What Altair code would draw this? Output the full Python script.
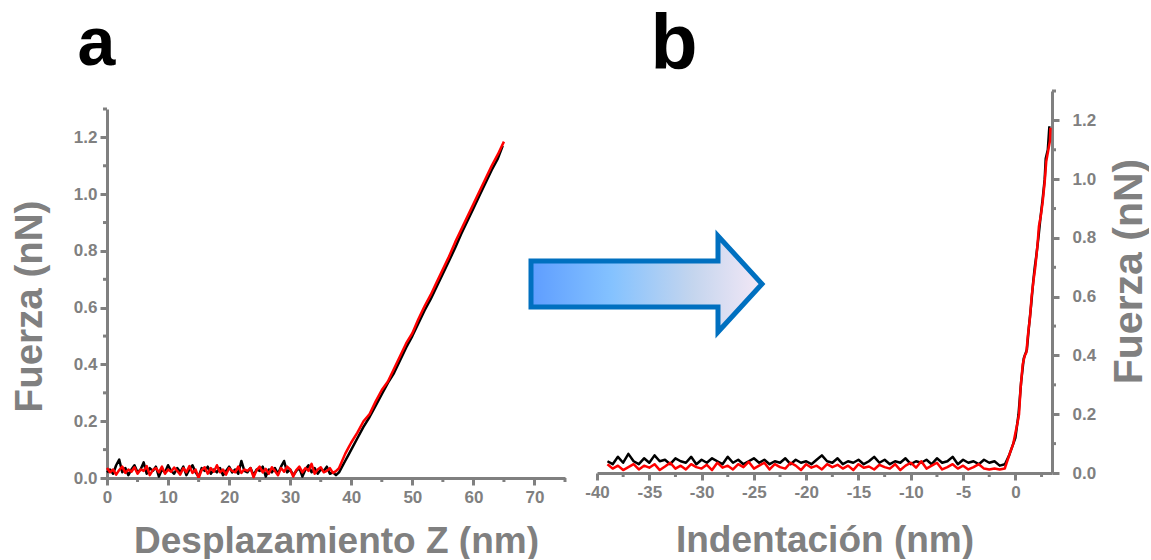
import altair as alt
import pandas as pd

# ---------------- data ----------------
# panel a: flat approach part, sampled every 0.5 nm starting at 0 nm
a_flat_step = 0.5
a_flat_red = [0.035, 0.02, 0.03, 0.012, 0.028, 0.04, 0.018, 0.03, 0.022, 0.038, 0.015, 0.03, 0.025, 0.042, 0.01,
              0.028, 0.035, 0.02, 0.04, 0.015, 0.03, 0.022, 0.037, 0.025, 0.012, 0.035, 0.02, 0.042, 0.018, 0.03,
              0.0, 0.028, 0.038, 0.015, 0.035, 0.022, 0.045, 0.02, 0.03, 0.012, 0.035, 0.025, 0.02, 0.04, 0.018,
              0.03, 0.025, 0.035, 0.003, 0.028, 0.04, 0.02, 0.032, 0.015, 0.038, 0.025, 0.01, 0.035, 0.022, 0.04,
              0.03, 0.005, 0.028, 0.04, 0.02, 0.035, 0.025, 0.05, 0.015, 0.03, 0.038, 0.02, 0.025, 0.035, 0.018]
a_flat_black = [0.02, 0.03, 0.015, 0.045, 0.065, 0.02, 0.035, 0.01, 0.03, 0.045, 0.02, 0.03, 0.055, 0.015, 0.035,
                0.025, 0.04, 0.005, 0.03, 0.02, 0.045, 0.025, 0.015, 0.035, 0.02, 0.04, 0.01, 0.03, 0.045, 0.02,
                0.005, 0.035, 0.025, 0.04, 0.015, 0.03, 0.02, 0.035, 0.01, 0.025, 0.04, 0.02, 0.03, 0.015, 0.06,
                0.025, 0.02, 0.035, 0.01, 0.03, 0.025, 0.04, 0.005, 0.03, 0.02, 0.035, 0.015, 0.04, 0.06, 0.02,
                0.03, 0.01, 0.025, 0.035, 0.005, 0.03, 0.045, 0.02, 0.035, 0.015, 0.03, 0.025, 0.04, 0.015, 0.02]
# panel a: contact (rising) part
a_rise_red_x = [37.5, 38.0, 38.5, 39.0, 39.5, 40, 41, 42, 43, 44, 45, 46, 47, 48, 49, 50, 51, 52, 53, 54, 55,
                56, 57, 58, 59, 60, 61, 62, 63, 64, 65]
a_rise_red_y = [0.024, 0.035, 0.06, 0.085, 0.105, 0.125, 0.16, 0.2, 0.225, 0.27, 0.31, 0.34, 0.385, 0.43, 0.475,
                0.51, 0.56, 0.605, 0.645, 0.69, 0.735, 0.78, 0.83, 0.875, 0.92, 0.965, 1.01, 1.055, 1.1, 1.14,
                1.185]
a_rise_black_x = [37.5, 38.0, 38.5, 39.0, 39.5, 40, 41, 42, 43, 44, 45, 46, 47, 48, 49, 50, 51, 52, 53, 54, 55,
                  56, 57, 58, 59, 60, 61, 62, 63, 64, 64.8]
a_rise_black_y = [0.01, 0.02, 0.04, 0.06, 0.08, 0.1, 0.14, 0.18, 0.215, 0.255, 0.295, 0.335, 0.37, 0.415, 0.46,
                  0.5, 0.545, 0.59, 0.63, 0.675, 0.72, 0.765, 0.81, 0.86, 0.905, 0.95, 0.995, 1.04, 1.085, 1.125,
                  1.17]

# panel b: flat part, sampled every 0.5 nm starting at -39 nm
b_flat_start = -39.0
b_flat_step = 0.5
b_flat_black = [0.04, 0.03, 0.055, 0.035, 0.065, 0.04, 0.03, 0.05, 0.035, 0.06, 0.04, 0.045, 0.03, 0.05, 0.04,
                0.035, 0.055, 0.03, 0.045, 0.035, 0.05, 0.04, 0.03, 0.055, 0.035, 0.045, 0.03, 0.04, 0.05, 0.035,
                0.045, 0.03, 0.04, 0.035, 0.05, 0.03, 0.045, 0.035, 0.04, 0.03, 0.045, 0.06, 0.04, 0.035, 0.05,
                0.03, 0.04, 0.035, 0.045, 0.03, 0.04, 0.055, 0.035, 0.045, 0.03, 0.04, 0.035, 0.05, 0.03, 0.04,
                0.035, 0.045, 0.03, 0.05, 0.035, 0.04, 0.055, 0.03, 0.045, 0.035, 0.04, 0.03, 0.045, 0.035, 0.04,
                0.025, 0.03]
b_flat_red = [0.03, 0.015, 0.025, 0.01, 0.02, 0.03, 0.012, 0.025, 0.018, 0.03, 0.01, 0.022, 0.035, 0.015, 0.025,
              0.012, 0.03, 0.02, 0.015, 0.028, 0.01, 0.035, 0.018, 0.025, 0.012, 0.03, 0.02, 0.038, 0.015, 0.025,
              0.035, 0.012, 0.03, 0.02, 0.015, 0.035, 0.025, 0.01, 0.03, 0.018, 0.025, 0.012, 0.03, 0.02, 0.028,
              0.015, 0.025, 0.01, 0.03, 0.018, 0.022, 0.012, 0.028, 0.02, 0.015, 0.03, 0.01, 0.025, 0.035, 0.018,
              0.04, 0.015, 0.025, 0.035, 0.012, 0.02, 0.03, 0.015, 0.025, 0.012, 0.02, 0.03, 0.015, 0.012, 0.015,
              0.012, 0.015]
b_rise_red_x = [-1.0, -0.5, -0.2, 0.0, 0.2, 0.35, 0.5, 0.7, 0.9, 1.05, 1.2, 1.4, 1.55, 1.75, 1.9, 2.1, 2.25, 2.45,
                2.6, 2.8, 2.95, 3.1, 3.3, 3.35]
b_rise_red_y = [0.017, 0.07, 0.1, 0.136, 0.17, 0.2, 0.29, 0.37, 0.4, 0.41, 0.47, 0.53, 0.6, 0.66, 0.7, 0.77, 0.84,
                0.88, 0.92, 0.99, 1.06, 1.09, 1.13, 1.175]
b_rise_black_x = [-1.0, -0.6, -0.3, 0.0, 0.3, 0.55, 0.8, 1.1, 1.3, 1.5, 1.7, 1.85, 2.0, 2.2, 2.4, 2.6, 2.8, 2.9,
                  3.1, 3.25]
b_rise_black_y = [0.03, 0.06, 0.09, 0.12, 0.2, 0.31, 0.39, 0.42, 0.5, 0.57, 0.65, 0.7, 0.74, 0.8, 0.87, 0.93, 1.0,
                  1.07, 1.1, 1.18]

# ticks
a_xticks = [0, 10, 20, 30, 40, 50, 60, 70]
a_xminor = [5, 15, 25, 35, 45, 55, 65, 75]
y_ticks = [0.0, 0.2, 0.4, 0.6, 0.8, 1.0, 1.2]
y_minor = [0.1, 0.3, 0.5, 0.7, 0.9, 1.1, 1.3]
b_xticks = [-40, -35, -30, -25, -20, -15, -10, -5, 0]
b_xminor = [-37.5, -32.5, -27.5, -22.5, -17.5, -12.5, -7.5, -2.5, 2.5]

x_title_a = "Desplazamiento Z (nm)"
x_title_b = "Indentación (nm)"
y_title = "Fuerza (nN)"

# ---------------- build tables ----------------
def series(xs, ys):
    return pd.DataFrame({"x": xs, "y": ys})

a_red = series([a_flat_step * i for i in range(len(a_flat_red))] + a_rise_red_x, a_flat_red + a_rise_red_y)
a_black = series([a_flat_step * i for i in range(len(a_flat_black))] + a_rise_black_x, a_flat_black + a_rise_black_y)
b_red = series([b_flat_start + b_flat_step * i for i in range(len(b_flat_red))] + b_rise_red_x, b_flat_red + b_rise_red_y)
b_black = series([b_flat_start + b_flat_step * i for i in range(len(b_flat_black))] + b_rise_black_x, b_flat_black + b_rise_black_y)

GRAY = "#808080"
FONT = "Liberation Sans"
H = 388
WA, WB = 458, 455

xa_scale = alt.Scale(domain=[0, 75], nice=False, zero=False)
ya_scale = alt.Scale(domain=[0, 1.3], range=[H, 19], nice=False)
xb_scale = alt.Scale(domain=[-40, 3.5], nice=False, zero=False)
yb_scale = alt.Scale(domain=[0, 1.3], range=[H - 5, 1], nice=False)

lbl_num = "'' + datum.value"
lbl_y = "format(datum.value, '.1f')"

axis_xa = alt.Axis(values=a_xticks, labelExpr=lbl_num, title=x_title_a, titleX=WA / 2, titleY=74,
                   titleBaseline="alphabetic", labelPadding=4, labelFlush=False)
axis_ya = alt.Axis(values=y_ticks, labelExpr=lbl_y, title=y_title, titleX=-78, titleY=216, titleAngle=270,
                   titleBaseline="middle", labelPadding=3, labelFlush=False, titleFontSize=38.5)
axis_xb = alt.Axis(values=b_xticks, labelExpr=lbl_num, title=x_title_b, titleX=WB / 2, titleY=78,
                   titleBaseline="alphabetic", offset=-5, labelPadding=4, labelFlush=False)
axis_yb = alt.Axis(orient="right", values=y_ticks, labelExpr=lbl_y, title=y_title, titleX=77, titleY=181,
                   titleAngle=270, titleBaseline="middle", labelPadding=13, labelFlush=False, titleFontSize=41)


def line_layer(df, color, xs, ys, ax, ay):
    return alt.Chart(df).mark_line(color=color, strokeWidth=2.5, strokeJoin="round").encode(
        x=alt.X("x:Q", scale=xs, axis=ax),
        y=alt.Y("y:Q", scale=ys, axis=ay),
    )


def minor_x(vals, xs, ys, ax, ay, y0_val):
    return alt.Chart(pd.DataFrame({"x": vals})).mark_rule(color=GRAY, strokeWidth=3, y2Offset=4).encode(
        x=alt.X("x:Q", scale=xs, axis=ax),
        y=alt.YDatum(y0_val, scale=ys, axis=ay),
        y2=alt.Y2Datum(y0_val),
    )


def minor_y(vals, xs, ys, ax, ay, x0_val, off):
    return alt.Chart(pd.DataFrame({"y": vals})).mark_rule(color=GRAY, strokeWidth=3, x2Offset=off).encode(
        y=alt.Y("y:Q", scale=ys, axis=ay),
        x=alt.XDatum(x0_val, scale=xs, axis=ax),
        x2=alt.X2Datum(x0_val),
    )


def letter(txt, px, py, fs):
    return alt.Chart(pd.DataFrame({"t": [txt]})).mark_text(
        font=FONT, fontSize=fs, fontWeight="bold", color="#000000", align="center", baseline="alphabetic"
    ).encode(text="t:N", x=alt.value(px), y=alt.value(py))


left = alt.layer(
    line_layer(a_black, "#000000", xa_scale, ya_scale, axis_xa, axis_ya),
    line_layer(a_red, "#FF0000", xa_scale, ya_scale, axis_xa, axis_ya),
    minor_x(a_xminor, xa_scale, ya_scale, axis_xa, axis_ya, 0),
    minor_y(y_minor, xa_scale, ya_scale, axis_xa, axis_ya, 0, -4),
    letter("a", -10.5, -25, 68),
).properties(width=WA, height=H)

arrow_path = "M -1 -0.199 L 0.619 -0.199 L 0.619 -0.416 L 1 0 L 0.619 0.416 L 0.619 0.199 L -1 0.199 Z"
arrow_fill = alt.LinearGradient(
    gradient="linear", x1=0, y1=0, x2=1, y2=0,
    stops=[
        alt.GradientStop(offset=0.0, color="#5E9DFF"),
        alt.GradientStop(offset=0.35, color="#84C2FF"),
        alt.GradientStop(offset=0.7, color="#C4D5EE"),
        alt.GradientStop(offset=1.0, color="#F4E8F6"),
    ],
)
arrow = alt.Chart(pd.DataFrame({"k": [1]})).mark_point(
    shape=arrow_path, size=53361, filled=True, fill=arrow_fill, stroke="#0070C0", strokeWidth=5,
    strokeJoin="miter", opacity=1, fillOpacity=1, strokeOpacity=1
).encode(x=alt.value(647.5 - 598), y=alt.value(284 - 90))

right = alt.layer(
    line_layer(b_black, "#000000", xb_scale, yb_scale, axis_xb, axis_yb),
    line_layer(b_red, "#FF0000", xb_scale, yb_scale, axis_xb, axis_yb),
    minor_x(b_xminor, xb_scale, yb_scale, axis_xb, axis_yb, 0),
    minor_y(y_minor, xb_scale, yb_scale, axis_xb, axis_yb, 3.5, 4),
    arrow,
    letter("b", 77, -21, 77),
).properties(width=WB, height=H)

chart = alt.hconcat(left, right, spacing=32, bounds="flush").properties(
    padding={"left": 10, "top": 7, "right": 0, "bottom": 0}, background="white"
).configure_view(stroke=None).configure_axis(
    grid=False,
    domainColor=GRAY, domainWidth=3,
    tickColor=GRAY, tickWidth=3, tickSize=7,
    labelColor=GRAY, labelFont=FONT, labelFontWeight="bold", labelFontSize=17,
    titleColor=GRAY, titleFont=FONT, titleFontWeight="bold", titleFontSize=37,
)

chart.save("out.html", embed_options={"renderer": "svg", "actions": False})
